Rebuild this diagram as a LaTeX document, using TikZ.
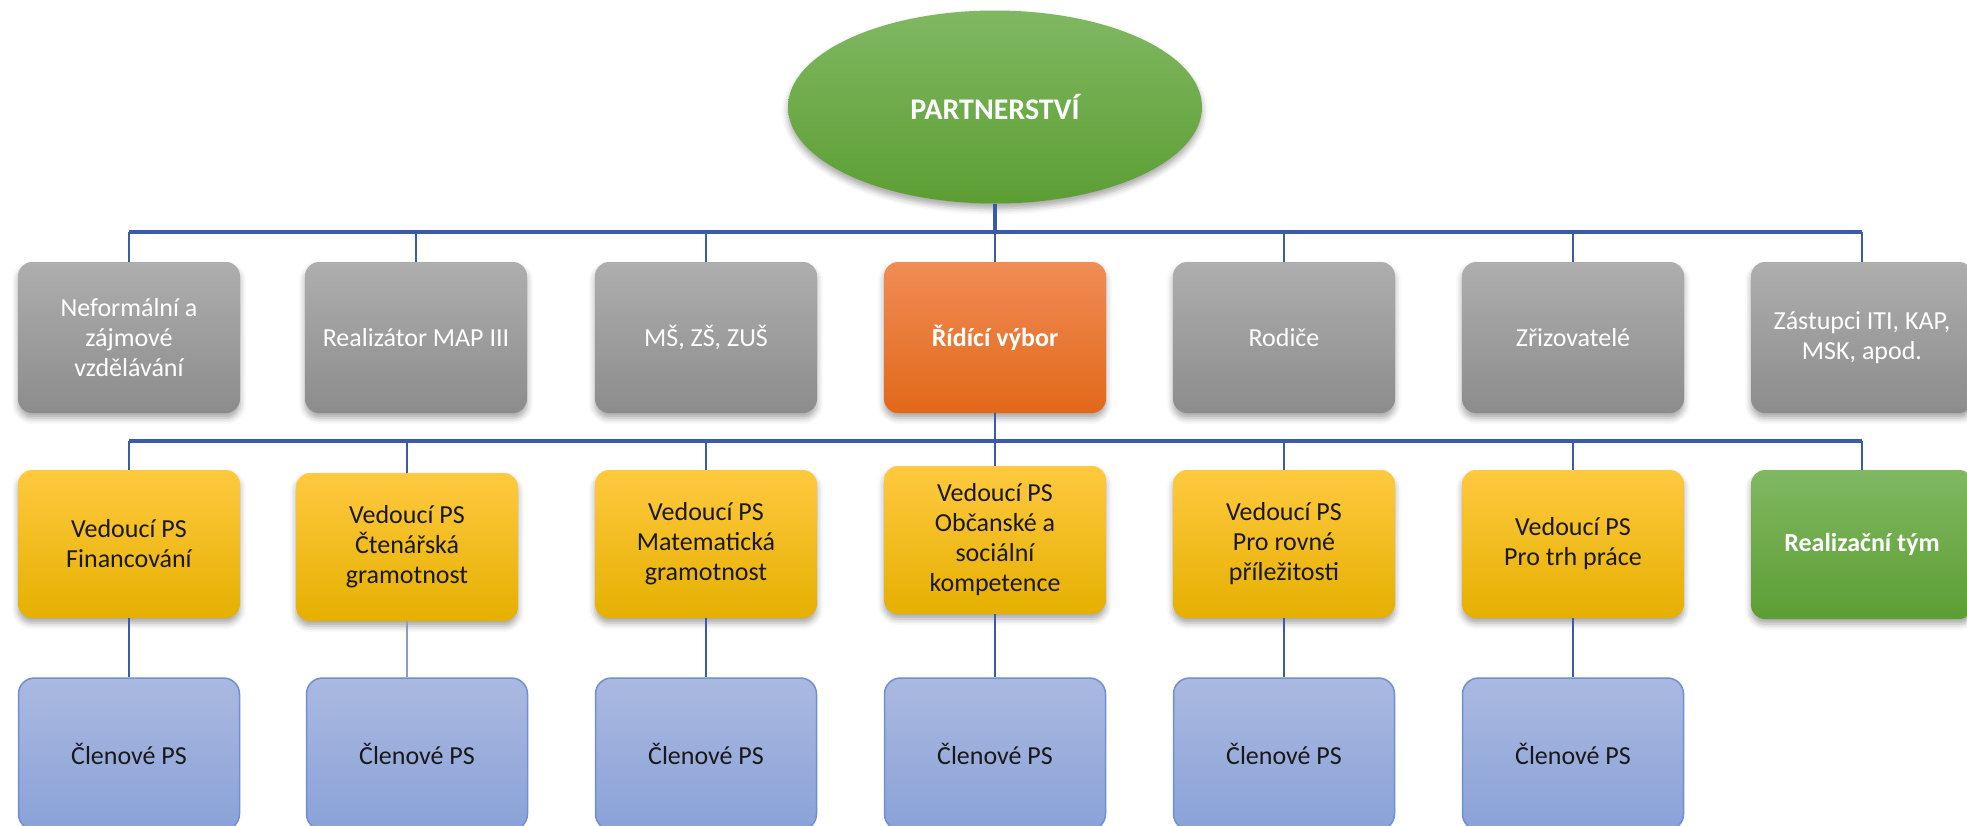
\documentclass[tikz,border=0pt]{standalone}
\usepackage{fontspec}
\setmainfont{Carlito}
\usetikzlibrary{shapes.geometric,shadows.blur}
\definecolor{conn}{HTML}{3A5CA8}
\definecolor{grayT}{HTML}{AEAEAE}
\definecolor{grayB}{HTML}{8C8C8C}
\definecolor{orT}{HTML}{F08C55}
\definecolor{orB}{HTML}{E2681A}
\definecolor{yeT}{HTML}{FFC940}
\definecolor{yeB}{HTML}{E5B000}
\definecolor{grT}{HTML}{80B862}
\definecolor{grB}{HTML}{5C9E33}
\definecolor{blT}{HTML}{AAB9E0}
\definecolor{blB}{HTML}{8AA2D8}
\definecolor{blD}{HTML}{6E8FD2}
\tikzset{
  boxbase/.style={rectangle, rounded corners=14pt, minimum width=222pt, inner sep=2pt, align=center,
    font=\fontsize{26}{30}\selectfont,
    blur shadow={shadow xshift=0pt, shadow yshift=-5pt, shadow blur radius=6pt, shadow opacity=35}},
  graybox/.style={boxbase, top color=grayT, bottom color=grayB, text=white, minimum height=151pt},
  orbox/.style={boxbase, top color=orT, bottom color=orB, text=white, minimum height=151pt, font=\fontsize{26}{30}\selectfont\bfseries},
  yebox/.style={boxbase, top color=yeT, bottom color=yeB, middle color=yeB!50!yeT, text=black!90, minimum height=148pt},
  grbox/.style={boxbase, top color=grT, bottom color=grB, text=white, minimum height=149pt, font=\fontsize{26}{30}\selectfont\bfseries},
  blbox/.style={rectangle, rounded corners=16pt, minimum width=221pt, minimum height=152pt, align=center,
    font=\fontsize{26}{30}\selectfont, top color=blT, bottom color=blB, draw=blD, line width=1.5pt, text=black!90},
  conline/.style={draw=conn, line width=2pt},
  barline/.style={draw=conn, line width=4pt},
}
\begin{document}
\begin{tikzpicture}[x=1pt,y=-1pt]
\useasboundingbox (0,0) rectangle (1967,825);
% root
\node[ellipse, minimum width=414pt, minimum height=193pt, top color=grT, bottom color=grB,
  blur shadow={shadow xshift=0pt, shadow yshift=-5pt, shadow blur radius=6pt, shadow opacity=35},
  text=white, font=\fontsize{30}{36}\selectfont\bfseries] (root) at (995,107) {PARTNERSTVÍ};
% second level
\node[graybox] (g1) at (129,337.5) {Neformální a\\zájmové\\vzdělávání};
\node[graybox] (g2) at (416,337.5) {Realizátor MAP III};
\node[graybox] (g3) at (706,337.5) {MŠ, ZŠ, ZUŠ};
\node[orbox]   (g4) at (995,337.5) {Řídící výbor};
\node[graybox] (g5) at (1284,337.5) {Rodiče};
\node[graybox] (g6) at (1573,337.5) {Zřizovatelé};
\node[graybox] (g7) at (1862,337.5) {Zástupci ITI, KAP,\\MSK, apod.};
% third level
\node[yebox] (y1) at (129,544) {Vedoucí PS\\Financování};
\node[yebox] (y2) at (407,547) {Vedoucí PS\\Čtenářská\\gramotnost};
\node[yebox] (y3) at (706,544) {Vedoucí PS\\Matematická\\gramotnost};
\node[yebox] (y4) at (995,540) {Vedoucí PS\\Občanské a\\sociální\\kompetence};
\node[yebox] (y5) at (1284,544) {Vedoucí PS\\Pro rovné\\příležitosti};
\node[yebox] (y6) at (1573,544) {Vedoucí PS\\Pro trh práce};
\node[grbox] (rt) at (1862,544.5) {Realizační tým};
% fourth level
\node[blbox] (b1) at (129,754) {Členové PS};
\node[blbox] (b2) at (417,754) {Členové PS};
\node[blbox] (b3) at (706,754) {Členové PS};
\node[blbox] (b4) at (995,754) {Členové PS};
\node[blbox] (b5) at (1284,754) {Členové PS};
\node[blbox] (b6) at (1573,754) {Členové PS};
% bars
\coordinate (bar1) at (995,232);
\coordinate (bar2) at (995,441);
\draw[conline, line width=4pt] (root.south) -- (root.south |- bar1);
\draw[barline] (g1.north |- bar1) -- (g7.north |- bar1);
\foreach \n in {g1,g2,g3,g4,g5,g6,g7} \draw[conline] (\n.north |- bar1) -- (\n.north);
\draw[conline] (g4.south) -- (g4.south |- bar2);
\draw[barline] (y1.north |- bar2) -- (rt.north |- bar2);
\foreach \n in {y1,y2,y3,y4,y5,y6,rt} \draw[conline] (\n.north |- bar2) -- (\n.north);
% to members
\draw[conline] (y1.south) -- (b1.north);
\draw[conline, draw=conn!60] (y2.south) -- (y2.south |- b2.north);
\draw[conline] (y3.south) -- (b3.north);
\draw[conline] (y4.south) -- (b4.north);
\draw[conline] (y5.south) -- (b5.north);
\draw[conline] (y6.south) -- (b6.north);
\end{tikzpicture}
\end{document}
